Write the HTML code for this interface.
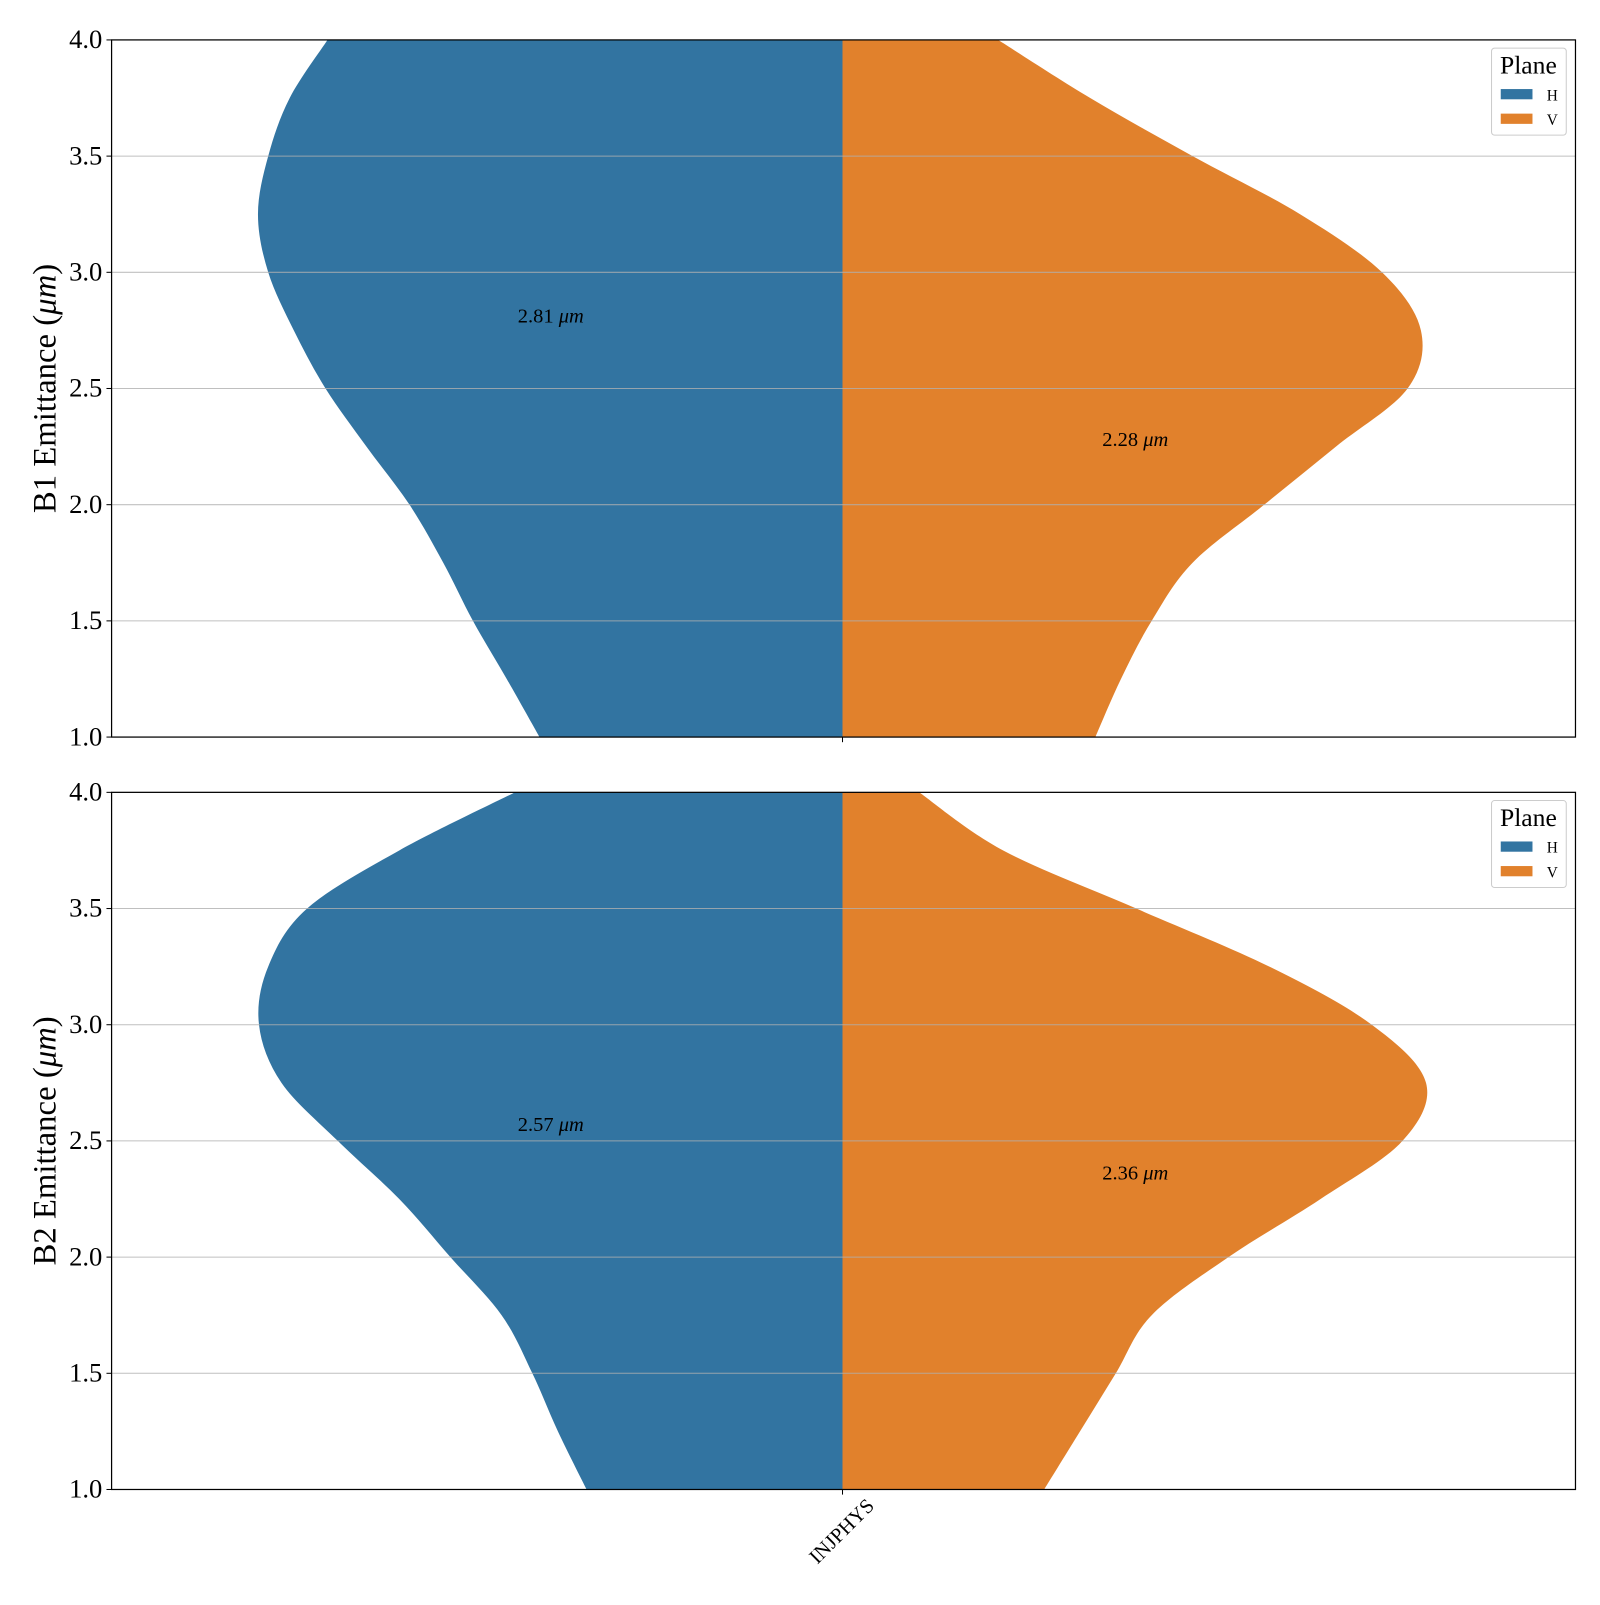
<!DOCTYPE html>
<html><head><meta charset="utf-8"><style>
body{margin:0;background:#fff}
svg text{font-family:"Liberation Serif",serif}
</style></head><body>
<svg width="1600" height="1600" viewBox="0 0 1600 1600" xmlns="http://www.w3.org/2000/svg"><g id="chart" transform="scale(1.0237)"></g></svg>
<script>
const levels=[4.0,3.75,3.5,3.25,3.0,2.75,2.5,2.25,2.0,1.75,1.5,1.25,1.0];
const b1H=[503,540,561,571,561,536,505,465,423,390,361,328,296];
const b1V=[152,242,342,447,527,565,552,482,412,342,302,272,247];
const b2H=[320,433,523,561,570,548,493,433,383,333,303,278,250];
const b2V=[75,157,287,417,517,570,547,467,377,302,267,232,197];
const yTicks=[1.0,1.5,2.0,2.5,3.0,3.5,4.0];
const medians=[[2.81,2.28],[2.57,2.36]];
const panels=[{top:39,h:b1H,v:b1V,label:"B1"},{top:774,h:b2H,v:b2V,label:"B2"}];
const svg=document.getElementById('chart');
const NS="http://www.w3.org/2000/svg";
const L=109,R=1539,CX=823,PH=681;
function mk(t,a,p){const e=document.createElementNS(NS,t);for(const k in a)e.setAttribute(k,a[k]);(p||svg).appendChild(e);return e;}
function smooth(pts){let d=`M${pts[0][0]},${pts[0][1]}`;for(let i=0;i<pts.length-1;i++){const p0=pts[Math.max(0,i-1)],p1=pts[i],p2=pts[i+1],p3=pts[Math.min(pts.length-1,i+2)];d+=` C${p1[0]+(p2[0]-p0[0])/6},${p1[1]+(p2[1]-p0[1])/6} ${p2[0]-(p3[0]-p1[0])/6},${p2[1]-(p3[1]-p1[1])/6} ${p2[0]},${p2[1]}`;}return d;}
panels.forEach((p,pi)=>{
  const y=v=>p.top+(4-v)/3*PH;
  const hp=levels.map((l,i)=>[CX-p.h[i],y(l)]);
  let d=smooth(hp)+` L${CX},${y(1)} L${CX},${y(4)} Z`;
  const vh=mk('path',{d,fill:'#3274a1'});
  
  
  const vp=levels.map((l,i)=>[CX+p.v[i],y(l)]);
  d=smooth(vp)+` L${CX},${y(1)} L${CX},${y(4)} Z`;
  const vv=mk('path',{d,fill:'#e1812c'});
  
  
  yTicks.forEach(t=>{
    const g=mk('line',{x1:L,x2:R,y1:y(t),y2:y(t),stroke:'#b0b0b0','stroke-width':1,opacity:0.8});
    
    mk('line',{x1:L-5,x2:L,y1:y(t),y2:y(t),stroke:'#000'});
    const tx=mk('text',{x:L-9,y:y(t)+8,'text-anchor':'end','font-size':26});tx.textContent=t.toFixed(1);
    
  });
  const fr=mk('rect',{x:L,y:p.top,width:R-L,height:PH,fill:'none',stroke:'#000','stroke-width':1.2});
  
  mk('line',{x1:CX,x2:CX,y1:p.top+PH,y2:p.top+PH+5,stroke:'#000'});
  const yl=mk('text',{x:0,y:0,'text-anchor':'middle','font-size':32,transform:`translate(54,${p.top+PH/2}) rotate(-90)`});
  yl.innerHTML=`${p.label} Emittance (<tspan font-style="italic">μm</tspan>)`;
  
  const [mh,mv]=medians[pi];
  const a1=mk('text',{x:538,y:y(mh)+6,'text-anchor':'middle','font-size':20});a1.innerHTML=`${mh.toFixed(2)} <tspan font-style="italic">μm</tspan>`;
  
  const a2=mk('text',{x:1109,y:y(mv)+6,'text-anchor':'middle','font-size':20});a2.innerHTML=`${mv.toFixed(2)} <tspan font-style="italic">μm</tspan>`;
  
  const lg=mk('g',{});
  
  mk('rect',{x:1457,y:p.top+8,width:73,height:85,fill:'#fff',stroke:'#ccc',rx:3},lg);
  const lt=mk('text',{x:1493,y:p.top+33,'text-anchor':'middle','font-size':25},lg);lt.textContent='Plane';
  [['H','#3274a1',48],['V','#e1812c',72]].forEach(([n,c,o])=>{
    const r=mk('rect',{x:1466,y:p.top+o,width:31,height:10,fill:c},lg);
    
    const t=mk('text',{x:1511,y:p.top+o+11,'font-size':15},lg);t.textContent=n;
  });
});
const xl=mk('text',{x:0,y:0,'text-anchor':'end','font-size':20,transform:'translate(855,1472) rotate(-45)'});
xl.textContent='INJPHYS';

</script>
</body></html>
